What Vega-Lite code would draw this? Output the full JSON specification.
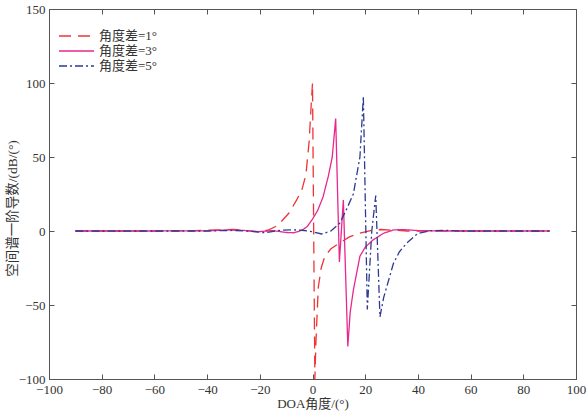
{
  "$schema": "https://vega.github.io/schema/vega-lite/v6.json",
  "width": 527,
  "height": 370,
  "autosize": {"type": "none"},
  "padding": {"left": 49, "top": 9, "right": 12, "bottom": 36},
  "background": "white",
  "config": {
    "view": {"stroke": "#555", "strokeWidth": 1},
    "font": "Liberation Serif, 'Noto Sans CJK SC'",
    "axis": {
      "grid": false,
      "domainColor": "#555",
      "tickColor": "#555",
      "tickSize": -5,
      "labelColor": "#333",
      "labelFont": "Liberation Serif",
      "labelFontSize": 13,
      "titleColor": "#333",
      "titleFont": "Liberation Serif, 'Noto Sans CJK SC'",
      "titleFontSize": 13,
      "titleFontWeight": "normal"
    }
  },
  "data": {
    "values": [
      {"s": "角度差=1°", "x": -90, "y": 0},
      {"s": "角度差=1°", "x": -60, "y": 0},
      {"s": "角度差=1°", "x": -45, "y": 0.2},
      {"s": "角度差=1°", "x": -35, "y": 0.8},
      {"s": "角度差=1°", "x": -30, "y": 1},
      {"s": "角度差=1°", "x": -25, "y": 0.3},
      {"s": "角度差=1°", "x": -20, "y": -0.5},
      {"s": "角度差=1°", "x": -17, "y": 0.5},
      {"s": "角度差=1°", "x": -14, "y": 3},
      {"s": "角度差=1°", "x": -12, "y": 6},
      {"s": "角度差=1°", "x": -9, "y": 12},
      {"s": "角度差=1°", "x": -6, "y": 21},
      {"s": "角度差=1°", "x": -4, "y": 28},
      {"s": "角度差=1°", "x": -2.5, "y": 38},
      {"s": "角度差=1°", "x": -1.3, "y": 60},
      {"s": "角度差=1°", "x": -0.5, "y": 85},
      {"s": "角度差=1°", "x": 0, "y": 100},
      {"s": "角度差=1°", "x": 0.9, "y": -100},
      {"s": "角度差=1°", "x": 1.3, "y": -75},
      {"s": "角度差=1°", "x": 2.2, "y": -38},
      {"s": "角度差=1°", "x": 3.3, "y": -25},
      {"s": "角度差=1°", "x": 4.7, "y": -17},
      {"s": "角度差=1°", "x": 7, "y": -12},
      {"s": "角度差=1°", "x": 10.4, "y": -8},
      {"s": "角度差=1°", "x": 14, "y": -4},
      {"s": "角度差=1°", "x": 18, "y": -1.4},
      {"s": "角度差=1°", "x": 22, "y": 0.3},
      {"s": "角度差=1°", "x": 26, "y": 1},
      {"s": "角度差=1°", "x": 30, "y": 0.6},
      {"s": "角度差=1°", "x": 36, "y": 0},
      {"s": "角度差=1°", "x": 60, "y": 0},
      {"s": "角度差=1°", "x": 90, "y": 0},

      {"s": "角度差=3°", "x": -90, "y": 0},
      {"s": "角度差=3°", "x": -60, "y": 0},
      {"s": "角度差=3°", "x": -40, "y": 0.1},
      {"s": "角度差=3°", "x": -32, "y": 0.8},
      {"s": "角度差=3°", "x": -26, "y": 0.4},
      {"s": "角度差=3°", "x": -21, "y": -0.5},
      {"s": "角度差=3°", "x": -15, "y": 0.3},
      {"s": "角度差=3°", "x": -10, "y": -1},
      {"s": "角度差=3°", "x": -7, "y": -1.2},
      {"s": "角度差=3°", "x": -4, "y": 0.5},
      {"s": "角度差=3°", "x": -2, "y": 3},
      {"s": "角度差=3°", "x": 0, "y": 8},
      {"s": "角度差=3°", "x": 2, "y": 14},
      {"s": "角度差=3°", "x": 4, "y": 23},
      {"s": "角度差=3°", "x": 6, "y": 37},
      {"s": "角度差=3°", "x": 7.5, "y": 50},
      {"s": "角度差=3°", "x": 8.8, "y": 76},
      {"s": "角度差=3°", "x": 10.2, "y": -21},
      {"s": "角度差=3°", "x": 11.7, "y": 21},
      {"s": "角度差=3°", "x": 13.4, "y": -78},
      {"s": "角度差=3°", "x": 14.3, "y": -55},
      {"s": "角度差=3°", "x": 15.5, "y": -40},
      {"s": "角度差=3°", "x": 18, "y": -17},
      {"s": "角度差=3°", "x": 20, "y": -11},
      {"s": "角度差=3°", "x": 23, "y": -6},
      {"s": "角度差=3°", "x": 27, "y": -1.5},
      {"s": "角度差=3°", "x": 30.7, "y": 0.7},
      {"s": "角度差=3°", "x": 34, "y": 1},
      {"s": "角度差=3°", "x": 40, "y": 0.3},
      {"s": "角度差=3°", "x": 50, "y": 0},
      {"s": "角度差=3°", "x": 90, "y": 0},

      {"s": "角度差=5°", "x": -90, "y": 0},
      {"s": "角度差=5°", "x": -60, "y": 0},
      {"s": "角度差=5°", "x": -40, "y": 0},
      {"s": "角度差=5°", "x": -30, "y": 0.4},
      {"s": "角度差=5°", "x": -25, "y": 0},
      {"s": "角度差=5°", "x": -18, "y": -1.2},
      {"s": "角度差=5°", "x": -12, "y": 0.5},
      {"s": "角度差=5°", "x": -8, "y": 0.8},
      {"s": "角度差=5°", "x": -4, "y": 0.5},
      {"s": "角度差=5°", "x": 0, "y": -0.5},
      {"s": "角度差=5°", "x": 3.5, "y": -2},
      {"s": "角度差=5°", "x": 7, "y": 0},
      {"s": "角度差=5°", "x": 10.4, "y": 5.4},
      {"s": "角度差=5°", "x": 13, "y": 15},
      {"s": "角度差=5°", "x": 15.5, "y": 25},
      {"s": "角度差=5°", "x": 18, "y": 50},
      {"s": "角度差=5°", "x": 19.3, "y": 91},
      {"s": "角度差=5°", "x": 20.8, "y": -53},
      {"s": "角度差=5°", "x": 22.5, "y": 0},
      {"s": "角度差=5°", "x": 24, "y": 24},
      {"s": "角度差=5°", "x": 25.6, "y": -58},
      {"s": "角度差=5°", "x": 27, "y": -45},
      {"s": "角度差=5°", "x": 30.7, "y": -22},
      {"s": "角度差=5°", "x": 33, "y": -14},
      {"s": "角度差=5°", "x": 35.7, "y": -8.3},
      {"s": "角度差=5°", "x": 40, "y": -1.6},
      {"s": "角度差=5°", "x": 45, "y": 0.2},
      {"s": "角度差=5°", "x": 50, "y": 0.5},
      {"s": "角度差=5°", "x": 56, "y": 0},
      {"s": "角度差=5°", "x": 90, "y": 0}
    ]
  },
  "layer": [
    {
      "mark": {"type": "line", "strokeWidth": 1.3, "clip": true},
      "encoding": {
        "x": {
          "field": "x", "type": "quantitative",
          "scale": {"domain": [-100, 100], "nice": false},
          "axis": {"values": [-100, -80, -60, -40, -20, 0, 20, 40, 60, 80, 100], "title": "DOA角度/(°)", "titlePadding": 1, "labelPadding": 9, "labelFlush": false}
        },
        "y": {
          "field": "y", "type": "quantitative",
          "scale": {"domain": [-100, 150], "nice": false},
          "axis": {"values": [-100, -50, 0, 50, 100, 150], "title": "空间谱一阶导数/(dB/(°)", "titleFontSize": 13.5, "titleY": 199, "titlePadding": -1, "labelPadding": 9}
        },
        "color": {
          "field": "s", "type": "nominal",
          "scale": {"domain": ["角度差=1°", "角度差=3°", "角度差=5°"], "range": ["#ee3535", "#e8288e", "#2e3a93"]},
          "legend": {
            "title": null,
            "orient": "none",
            "legendX": 19.5,
            "legendY": 19,
            "symbolType": "M-2.5,0H2.5",
            "symbolSize": 196,
            "symbolStrokeWidth": 1.3,
            "labelFont": "Liberation Serif, 'Noto Sans CJK SC'",
            "labelFontSize": 13,
            "labelColor": "#333",
            "rowPadding": 0,
            "labelOffset": 14.5
          }
        },
        "strokeDash": {
          "field": "s", "type": "nominal",
          "scale": {"domain": ["角度差=1°", "角度差=3°", "角度差=5°"], "range": [[12, 7], [1, 0], [8, 3, 2, 3]]},
          "legend": {
            "title": null,
            "orient": "none",
            "legendX": 19.5,
            "legendY": 19,
            "symbolType": "M-2.5,0H2.5",
            "symbolSize": 196,
            "symbolStrokeWidth": 1.3,
            "labelFont": "Liberation Serif, 'Noto Sans CJK SC'",
            "labelFontSize": 13,
            "labelColor": "#333",
            "rowPadding": 0,
            "labelOffset": 14.5
          }
        }
      }
    },
    {
      "mark": {"type": "line", "opacity": 0},
      "encoding": {
        "x": {"field": "x", "type": "quantitative", "axis": {"orient": "top", "labels": false, "title": null, "domain": false, "values": [-100, -80, -60, -40, -20, 0, 20, 40, 60, 80, 100]}},
        "y": {"field": "y", "type": "quantitative", "axis": {"orient": "right", "labels": false, "title": null, "domain": false, "values": [-100, -50, 0, 50, 100, 150]}}
      }
    }
  ],
  "resolve": {"axis": {"x": "independent", "y": "independent"}}
}
